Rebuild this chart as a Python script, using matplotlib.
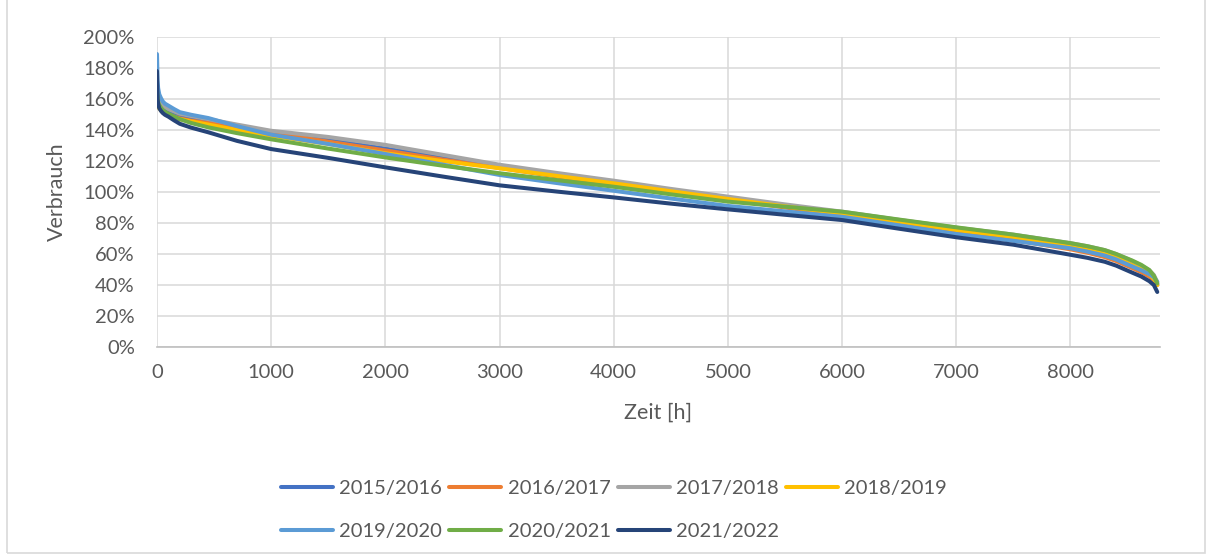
import matplotlib
matplotlib.use("Agg")
import matplotlib.pyplot as plt
from matplotlib.patches import Rectangle
from matplotlib.ticker import FuncFormatter, MultipleLocator

# ===== Data =====
hours = [0, 5, 10, 20, 35, 50, 70, 100, 150, 200, 300, 450, 700, 1000, 1500,
         2000, 2500, 3000, 3500, 4000, 4500, 5000, 5500, 6000, 6500, 7000,
         7500, 8000, 8150, 8300, 8400, 8540, 8620, 8690, 8730, 8760]

y_2015_2016 = [167, 161, 159, 157, 155.3, 154, 153, 152, 150.5, 149, 147.5, 145.5,
               142.3, 138.8, 133.5, 128, 122.3, 116.5, 111, 106, 101, 96, 91.2,
               86.5, 81.3, 76, 71.5, 65.5, 63.5, 61, 58.5, 53.5, 50.8, 48, 45, 41]
y_2016_2017 = [164, 159, 157, 155, 153.3, 152, 151, 150, 148.7, 147.5, 146, 144.5,
               141.5, 138.3, 132.5, 126.8, 121, 115.5, 110, 104.5, 99.7, 95, 90,
               85, 79.8, 74.5, 69, 63, 60.8, 58, 55.5, 51, 48.3, 45.5, 43, 40]
y_2017_2018 = [168, 163, 161, 159, 157.3, 156, 154.8, 153.5, 152, 150.5, 149, 147,
               143.5, 139.5, 135.5, 130.4, 124, 117.6, 112.3, 107.3, 102, 97, 92,
               87.3, 82, 77, 72.5, 67, 65, 62.5, 60, 55.5, 52.5, 49.5, 46.5, 42]
y_2018_2019 = [160, 157, 155.5, 154, 152.6, 151.5, 150.5, 149.5, 148.2, 147, 145.5, 143.5,
               140, 136.3, 131, 125, 120, 115.3, 110.4, 105.6, 100.5, 95.5, 90.7,
               86, 80.8, 75.5, 71, 64.5, 62.5, 60, 57.5, 52.8, 50, 47, 44, 40]
y_2019_2020 = [189, 172, 167, 163, 160.5, 158.5, 157, 155.7, 153.5, 151.5, 149.8, 147.7,
               142.5, 137, 131, 124.5, 117.7, 111, 105.8, 100.8, 95.8, 91, 87.5,
               84, 78.5, 72.9, 68.5, 63.7, 61.5, 59, 56.5, 52, 49.5, 47, 45, 42]
y_2020_2021 = [165, 160, 158, 156, 154.3, 153, 151.7, 150.5, 148.7, 147, 144.5, 141.7,
               138, 134, 128, 122.3, 117, 112.1, 107.7, 103.4, 98.5, 93.8, 90.5,
               87.3, 82.2, 77.2, 72.5, 67, 65, 62.5, 60, 55.8, 53, 49.7, 46, 41]
y_2021_2022 = [178, 160, 157, 154, 152.3, 151, 149.8, 148.6, 146.2, 144, 141.5, 138.5,
               133, 127.7, 122, 115.9, 110, 104.3, 100.3, 96.5, 92.5, 88.8, 85.3,
               81.9, 76.3, 70.8, 66, 59.5, 57.5, 55, 52.5, 48, 45.5, 42.5, 40, 35.5]

labels = ["2015/2016", "2016/2017", "2017/2018", "2018/2019",
          "2019/2020", "2020/2021", "2021/2022"]
series = [y_2015_2016, y_2016_2017, y_2017_2018, y_2018_2019,
          y_2019_2020, y_2020_2021, y_2021_2022]
colors = ["#4472C4", "#ED7D31", "#A5A5A5", "#FFC000",
          "#5B9BD5", "#70AD47", "#264478"]

# ===== Plot =====
plt.rcParams['font.family'] = ['Lato', 'DejaVu Sans']
text_col = "#595959"

fig = plt.figure(figsize=(12.12, 5.6), dpi=100)
ax = fig.add_axes([157 / 1212, 1 - 347 / 560, (1160 - 157) / 1212, (347 - 37) / 560])

lines = []
for y, lab, c in zip(series, labels, colors):
    ln, = ax.plot(hours, y, color=c, lw=2.9, label=lab,
                  solid_capstyle='round', solid_joinstyle='round')
    lines.append(ln)

ax.set_xlim(0, 8784)
ax.set_ylim(0, 200)
ax.xaxis.set_major_locator(MultipleLocator(1000))
ax.yaxis.set_major_locator(MultipleLocator(20))
ax.yaxis.set_major_formatter(FuncFormatter(lambda v, p: f"{v:.0f}%"))

ax.grid(True, color="#D9D9D9", lw=1.1)
ax.set_axisbelow(True)
for s in ["top", "right", "left"]:
    ax.spines[s].set_visible(False)
ax.spines["bottom"].set_color("#BFBFBF")
ax.spines["bottom"].set_linewidth(1.2)
ax.tick_params(length=0, labelsize=14.5, colors=text_col)
ax.tick_params(axis='y', pad=16)
ax.tick_params(axis='x', pad=12)

ax.set_xlabel("Zeit [h]", fontsize=15.5, color=text_col, labelpad=16)
ax.set_ylabel("Verbrauch", fontsize=15.5, color=text_col, labelpad=12)

# legend filled row by row, like the original
order = [0, 4, 1, 5, 2, 6, 3]
fig.legend([lines[i] for i in order], [labels[i] for i in order],
           loc="center", bbox_to_anchor=(614 / 1212, 1 - 510 / 560), ncol=4,
           frameon=False, fontsize=14.5, handlelength=2.6, handletextpad=0.3,
           columnspacing=0.35, labelspacing=1.3, labelcolor=text_col)

fig.patches.append(Rectangle((7 / 1212, 7 / 560), 1198 / 1212, 560 / 560,
                             transform=fig.transFigure, fill=False,
                             edgecolor="#D9D9D9", lw=1.2))

fig.savefig("out.png", dpi=100)
